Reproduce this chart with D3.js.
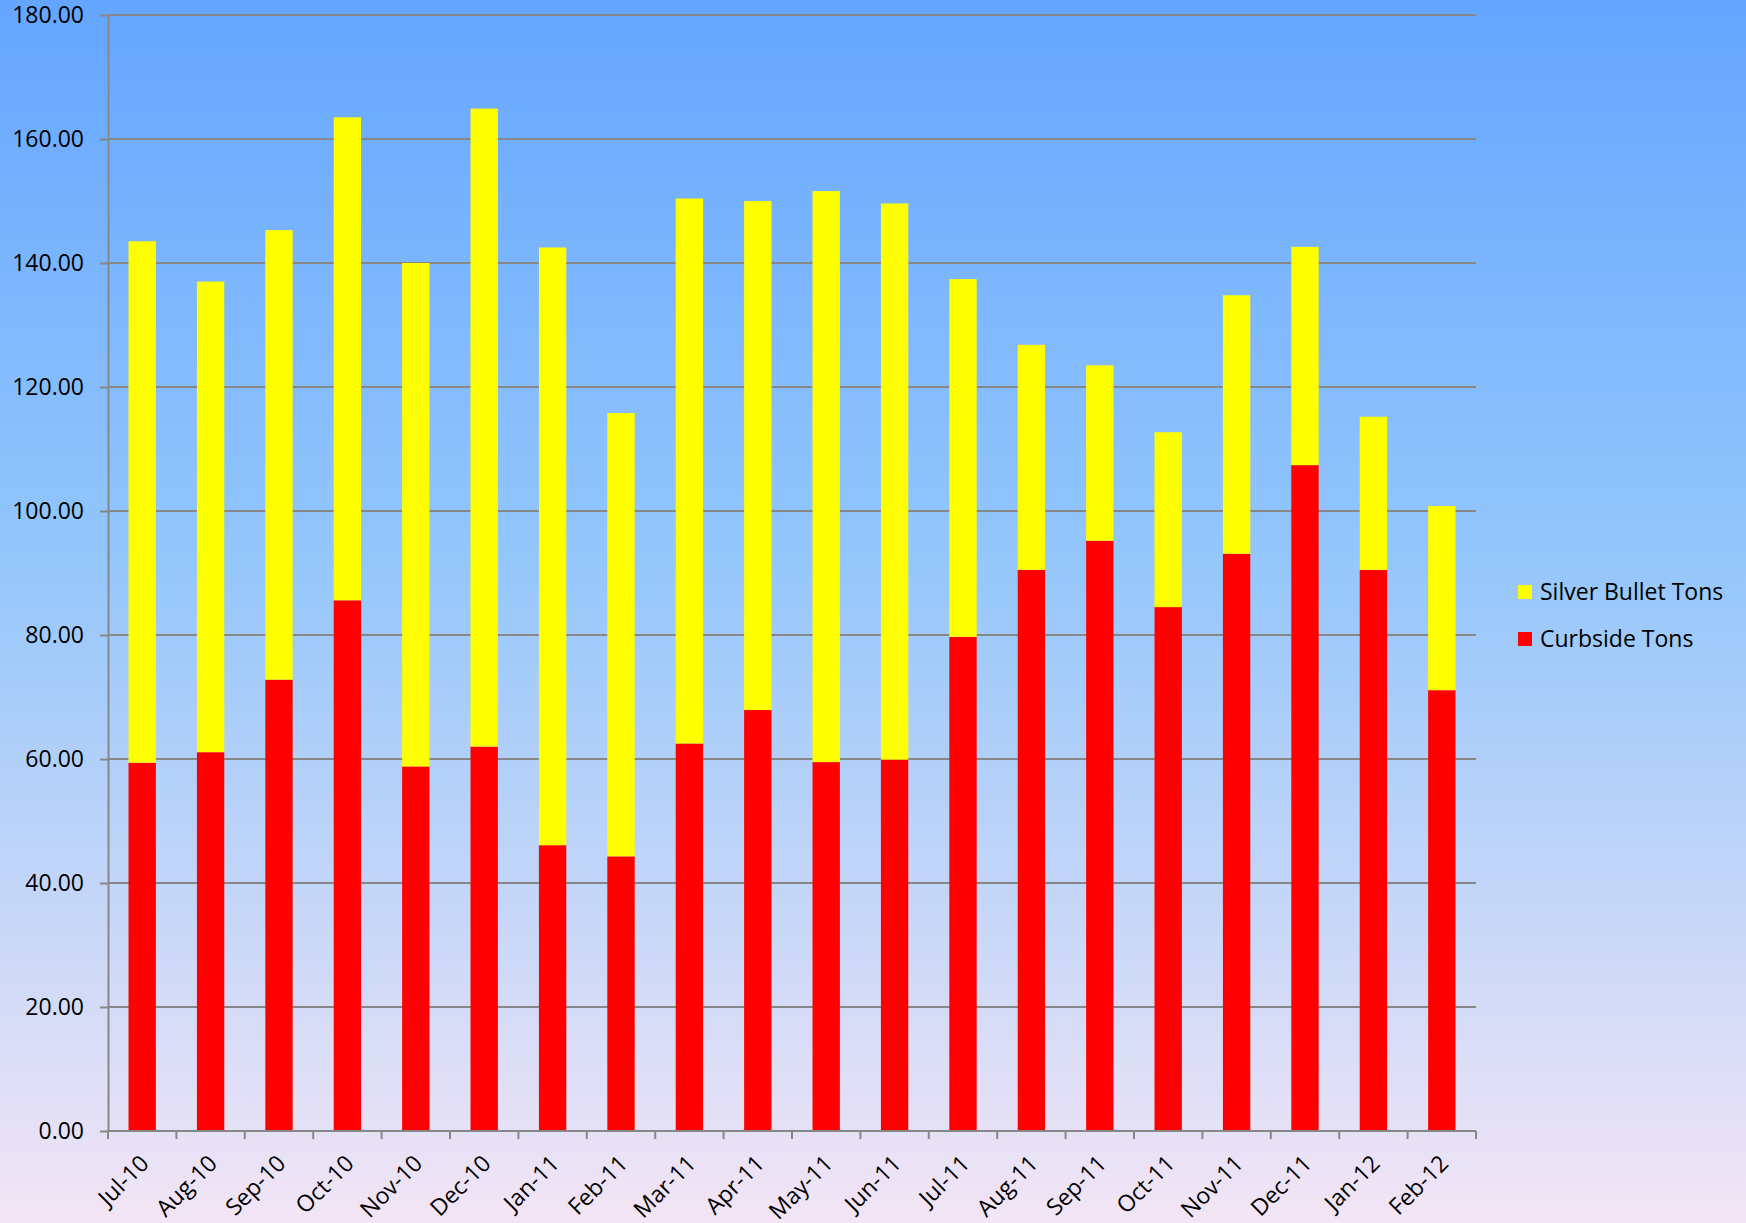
<!DOCTYPE html>
<html>
<head>
<meta charset="utf-8">
<script src="https://cdnjs.cloudflare.com/ajax/libs/d3/7.8.5/d3.min.js"></script>
<style>
  body { margin: 0; }
  svg { display: block; font-family: "Open Sans", sans-serif; }
  .grid line { stroke: #878787; stroke-width: 2; }
  .axis path, .axis line { stroke: #878787; stroke-width: 2; }
  .axis text { fill: #000; font-size: 23px; font-family: "Open Sans", sans-serif; }
</style>
</head>
<body>
<div class="viz"></div>
<script>
var months = ['Jul-10','Aug-10','Sep-10','Oct-10','Nov-10','Dec-10','Jan-11','Feb-11','Mar-11','Apr-11',
              'May-11','Jun-11','Jul-11','Aug-11','Sep-11','Oct-11','Nov-11','Dec-11','Jan-12','Feb-12']

var curbside = [59.4, 61.1, 72.8, 85.6, 58.8, 62.0, 46.1, 44.3, 62.5, 67.9,
                59.5, 59.9, 79.7, 90.5, 95.2, 84.5, 93.1, 107.4, 90.5, 71.1]

var silverBullet = [84.1, 75.9, 72.5, 77.9, 81.2, 102.9, 96.4, 71.5, 87.9, 82.1,
                    92.1, 89.7, 57.7, 36.3, 28.3, 28.2, 41.7, 35.2, 24.7, 29.7]

var yTicks = [0, 20, 40, 60, 80, 100, 120, 140, 160, 180]

var seriesNames = ['Silver Bullet Tons', 'Curbside Tons']
var seriesColors = ['#ffff00', '#ff0000']

var width = 1746,
    height = 1223,
    margin = {top: 15, left: 108, right: 270, bottom: 92}

var svg = d3.select('.viz').append('svg')
  .attr('width', width)
  .attr('height', height)

var grad = svg.append('defs').append('linearGradient')
  .attr('id', 'bg')
  .attr('x1', 0).attr('y1', 0).attr('x2', 0).attr('y2', 1)
grad.append('stop').attr('offset', '0%').attr('stop-color', '#64a5ff')
grad.append('stop').attr('offset', '45%').attr('stop-color', '#93c6fb')
grad.append('stop').attr('offset', '100%').attr('stop-color', '#f3e5f5')

svg.append('rect')
  .attr('width', width)
  .attr('height', height)
  .attr('fill', 'url(#bg)')

var x = d3.scaleBand()
  .domain(months)
  .range([margin.left, width - margin.right])
  .paddingInner(0.6)
  .paddingOuter(0.3)

var y = d3.scaleLinear()
  .domain([0, 180])
  .range([height - margin.bottom, margin.top])

// gridlines
svg.append('g')
  .attr('class', 'grid')
  .selectAll('line')
  .data(yTicks.slice(1))
  .enter()
  .append('line')
  .attr('x1', margin.left)
  .attr('x2', width - margin.right)
  .attr('y1', function(d){ return y(d) })
  .attr('y2', function(d){ return y(d) })

var data = months.map(function(m, i){
  return {month: m, curbside: curbside[i], silver: silverBullet[i]}
})

var stack = d3.stack().keys(['curbside', 'silver'])(data)

svg.append('g')
  .selectAll('g')
  .data(stack)
  .enter()
  .append('g')
  .attr('fill', function(d){ return d.key == 'curbside' ? seriesColors[1] : seriesColors[0] })
  .selectAll('rect')
  .data(function(d){ return d })
  .enter()
  .append('rect')
  .attr('x', function(d){ return x(d.data.month) })
  .attr('width', x.bandwidth())
  .attr('y', function(d){ return y(d[1]) })
  .attr('height', function(d){ return y(d[0]) - y(d[1]) })

// y axis
var yAxis = d3.axisLeft(y)
  .tickValues(yTicks)
  .tickFormat(d3.format('.2f'))
  .tickSize(8)
  .tickPadding(16)
  .tickSizeOuter(0)

svg.append('g')
  .attr('class', 'axis')
  .attr('transform', 'translate(' + margin.left + ',0)')
  .call(yAxis)

// x axis with ticks between categories
var bounds = months.map(function(m){ return x(m) - x.step() * x.paddingInner() / 2 })
bounds.push(width - margin.right)

var xg = svg.append('g').attr('class', 'axis')

xg.append('line')
  .attr('x1', margin.left)
  .attr('x2', width - margin.right)
  .attr('y1', y(0))
  .attr('y2', y(0))

xg.selectAll('.tick')
  .data(bounds)
  .enter()
  .append('line')
  .attr('x1', function(d){ return d })
  .attr('x2', function(d){ return d })
  .attr('y1', y(0))
  .attr('y2', y(0) + 8)

xg.selectAll('text')
  .data(months)
  .enter()
  .append('text')
  .attr('text-anchor', 'end')
  .attr('transform', function(d){
    return 'translate(' + (x(d) + x.bandwidth() / 2 + 8) + ',' + (y(0) + 34) + ') rotate(-45)'
  })
  .text(function(d){ return d })

// legend
var legend = svg.append('g')
  .attr('transform', 'translate(1518,585)')

var items = legend.selectAll('g')
  .data(seriesNames)
  .enter()
  .append('g')
  .attr('transform', function(d, i){ return 'translate(0,' + (i * 47) + ')' })

items.append('rect')
  .attr('width', 14)
  .attr('height', 14)
  .attr('fill', function(d, i){ return seriesColors[i] })

items.append('text')
  .attr('x', 22)
  .attr('y', 15)
  .style('font-size', '23px')
  .text(function(d){ return d })
</script>
</body>
</html>
